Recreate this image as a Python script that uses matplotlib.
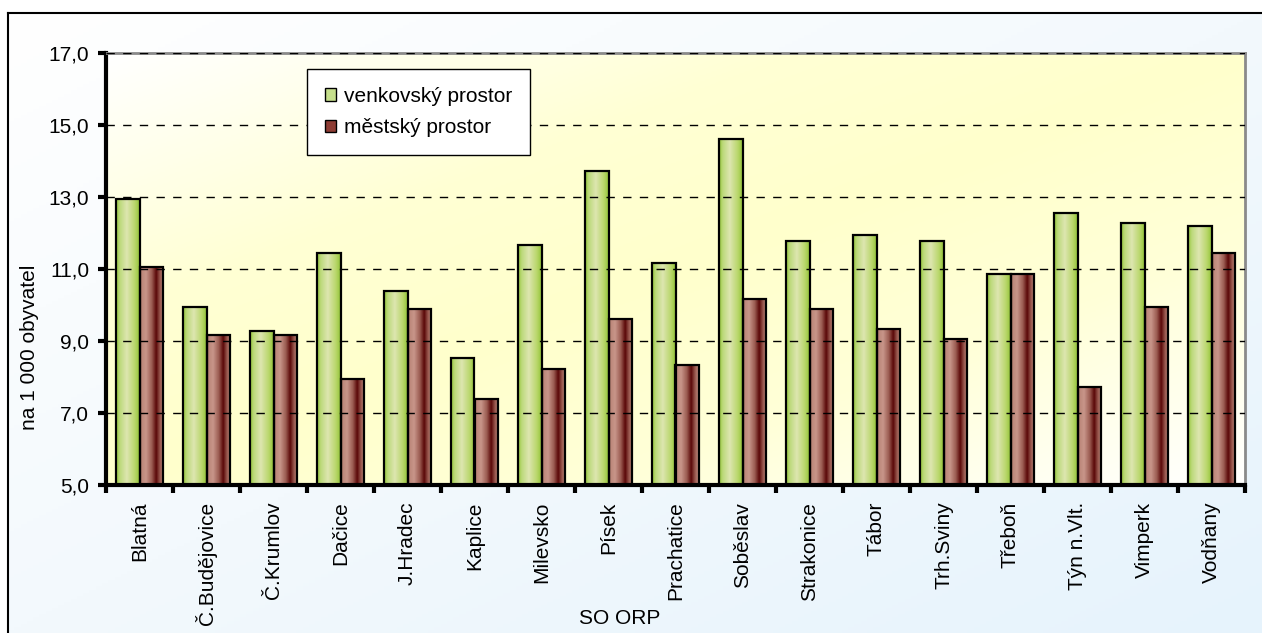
import numpy as np
import matplotlib
matplotlib.use("Agg")
import matplotlib.pyplot as plt
from matplotlib.colors import LinearSegmentedColormap
from matplotlib.patches import Patch
from matplotlib.ticker import FuncFormatter, FixedLocator

plt.rcParams['font.family'] = ['Liberation Sans', 'DejaVu Sans']

# Data
kategorie = ["Blatná", "Č.Budějovice", "Č.Krumlov", "Dačice", "J.Hradec", "Kaplice",
             "Milevsko", "Písek", "Prachatice", "Soběslav", "Strakonice", "Tábor",
             "Trh.Sviny", "Třeboň", "Týn n.Vlt.", "Vimperk", "Vodňany"]
venkovsky = [12.94, 9.94, 9.27, 11.44, 10.39, 8.54, 11.66, 13.72, 11.16, 14.60,
             11.78, 11.94, 11.78, 10.87, 12.56, 12.28, 12.20]
mestsky = [11.05, 9.17, 9.17, 7.94, 9.88, 7.39, 8.22, 9.60, 8.32, 10.16,
           9.88, 9.32, 9.05, 10.87, 7.71, 9.94, 11.44]
serie_nazvy = ["venkovský prostor", "městský prostor"]
y_ticks = [5, 7, 9, 11, 13, 15, 17]
y_min, y_max = 5, 17

W, H = 1262, 633
fig = plt.figure(figsize=(W / 100, H / 100), dpi=100)
fig.patch.set_facecolor("white")

# background of the chart frame (light blue gradient)
bg = fig.add_axes([8 / W, 0, 1 - 8 / W, 1 - 13 / H], zorder=0)
gx, gy = np.meshgrid(np.linspace(0, 1, 200), np.linspace(0, 1, 200))
t = (gx + gy) / 2
cm_bg = LinearSegmentedColormap.from_list("bg", ["#ffffff", "#f3f9fd", "#e6f3fc"])
bg.imshow(t, cmap=cm_bg, extent=(0, 1, 0, 1), aspect="auto", origin="upper")
bg.set_xticks([])
bg.set_yticks([])
bg.spines['right'].set_visible(False)
bg.spines['bottom'].set_visible(False)
bg.spines['left'].set_linewidth(1.5)
bg.spines['top'].set_linewidth(1.5)

ax = fig.add_axes([106 / W, 1 - 485 / H, (1245 - 106) / W, (485 - 53) / H], zorder=1)

# plot area gradient: white -> pale yellow -> white along the diagonal
cm_plot = LinearSegmentedColormap.from_list(
    "plot", [(0, "#ffffff"), (0.3, "#ffffd4"), (0.5, "#ffffcc"), (0.72, "#ffffd8"), (1, "#ffffff")])
ax.imshow(t, cmap=cm_plot, extent=(0, 1, 0, 1), transform=ax.transAxes,
          aspect="auto", origin="upper", zorder=0)

cm_zel = LinearSegmentedColormap.from_list(
    "zel", [(0, "#96c83a"), (0.15, "#bcd97a"), (0.45, "#dde6b0"), (0.8, "#b8d66a"), (1, "#92c436")])
cm_cerv = LinearSegmentedColormap.from_list(
    "cerv", [(0, "#b88274"), (0.25, "#c8968a"), (0.5, "#9a5a50"), (0.68, "#5a0808"), (0.85, "#9a5a50"), (1, "#c49084")])
grad = np.linspace(0, 1, 64).reshape(1, -1)

x = np.arange(len(kategorie))
sirka = 0.345
bars1 = ax.bar(x - sirka / 2, np.array(venkovsky) - y_min, sirka, bottom=y_min,
               facecolor="none", edgecolor="black", linewidth=1.6, zorder=3)
bars2 = ax.bar(x + sirka / 2, np.array(mestsky) - y_min, sirka, bottom=y_min,
               facecolor="none", edgecolor="black", linewidth=1.6, zorder=3)

for bars, cmap in [(bars1, cm_zel), (bars2, cm_cerv)]:
    for b in bars:
        bx, bw, bh = b.get_x(), b.get_width(), b.get_height()
        im = ax.imshow(grad, cmap=cmap, extent=(bx, bx + bw, y_min, y_min + bh),
                       aspect="auto", zorder=2)
        im.set_clip_path(b)

ax.set_xlim(-0.5, len(kategorie) - 0.5)
ax.set_ylim(y_min, y_max)

# axes
ax.set_yticks(y_ticks)
ax.yaxis.set_major_formatter(FuncFormatter(lambda v, p: f"{v:.1f}".replace(".", ",")))
ax.set_xticks(x)
ax.set_xticklabels(kategorie, rotation=90)
ax.xaxis.set_minor_locator(FixedLocator(np.arange(-0.5, len(kategorie), 1)))
ax.tick_params(axis="x", which="major", length=0, pad=12, labelsize=15)
ax.tick_params(axis="x", which="minor", length=6, width=3, direction="out")
ax.tick_params(axis="y", length=6, width=3, direction="out", pad=6, labelsize=15)

for s in ["left", "bottom"]:
    ax.spines[s].set_linewidth(3)
    ax.spines[s].set_color("black")
for s in ["top", "right"]:
    ax.spines[s].set_linewidth(2)
    ax.spines[s].set_color("#8a8a8a")

ax.grid(axis="y", color="black", linestyle=(0, (6, 6)), linewidth=1)
ax.set_axisbelow(False)
for gl in ax.get_ygridlines():
    gl.set_zorder(1)

fig.text(620 / W, 1 - 618 / H, "SO ORP", ha="center", va="center", fontsize=15)
fig.text(30 / W, 1 - 347 / H, "na 1 000 obyvatel", ha="center", va="center",
         rotation=90, fontsize=15)

handles = [Patch(facecolor="#c6df8c", edgecolor="black", linewidth=1),
           Patch(facecolor="#8e3c34", edgecolor="black", linewidth=1)]
leg = ax.legend(handles, serie_nazvy, loc="upper left",
                bbox_to_anchor=(307 / W, 1 - 69 / H), bbox_transform=fig.transFigure,
                borderaxespad=0, fontsize=15, frameon=True, fancybox=False,
                handlelength=0.55, handleheight=0.55, handletextpad=0.4,
                labelspacing=0.6, borderpad=0.85)
leg.get_frame().set_edgecolor("black")
leg.get_frame().set_linewidth(1)
leg.get_frame().set_facecolor("white")
leg.get_frame().set_alpha(1)
leg.set_zorder(5)

fig.savefig("out.png", dpi=100)
